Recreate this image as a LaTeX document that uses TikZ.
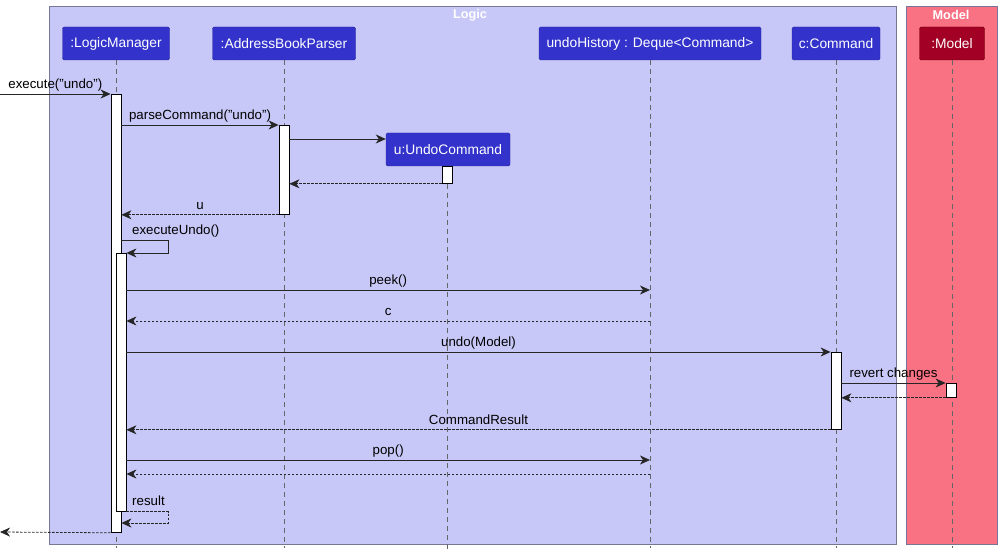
\documentclass[tikz,border=0pt]{standalone}
\usepackage{fontspec}
\setmainfont{Liberation Sans}
\usetikzlibrary{arrows.meta}

\definecolor{logicbg}{RGB}{200,200,248}
\definecolor{modelbg}{RGB}{248,114,132}
\definecolor{framegray}{RGB}{118,118,150}
\definecolor{hdrblue}{RGB}{51,51,204}
\definecolor{hdrline}{RGB}{40,40,150}
\definecolor{hdrred}{RGB}{162,0,37}
\definecolor{hdrredline}{RGB}{111,0,0}

\tikzset{
	frame/.style={draw=framegray, line width=0.8pt},
	frametitle/.style={text=white, font=\bfseries\fontsize{12.7}{15}\selectfont},
	hdr/.style={draw=hdrline, fill=hdrblue, text=white, rounded corners=1.5pt,
		minimum height=33pt, inner sep=0pt, font=\fontsize{13.8}{16}\selectfont},
	life/.style={draw=black!60, dash pattern=on 5pt off 4pt, line width=0.6pt},
	act/.style={draw=black, fill=white, minimum width=10pt, inner sep=0pt, anchor=north, line width=0.8pt},
	msg/.style={draw=black!85, line width=0.8pt, -{Stealth[length=10pt,width=9pt,inset=3pt]}},
	ret/.style={msg, dash pattern=on 2.5pt off 1.5pt},
	lbl/.style={above, inner sep=2pt, text height=10pt, text depth=3pt, font=\fontsize{13.3}{15}\selectfont}
}

\begin{document}
\begin{tikzpicture}[x=1pt,y=-1pt]
	\useasboundingbox (0,0) rectangle (1002,556);
	% boxes
	\draw[frame, fill=logicbg] (49,6) rectangle (896,544);
	\draw[frame, fill=modelbg] (906,6) rectangle (997,544);
	\node[frametitle] (logicT) at (470,15) {Logic};
	\node[frametitle] (modelT) at (951,15) {Model};

	% participants
	\node[hdr, minimum width=107pt] (lm) at (116,43.5) {:LogicManager};
	\node[hdr, minimum width=143pt] (abp) at (284,43.5) {:AddressBookParser};
	\node[hdr, minimum width=222pt] (uh) at (650,43.5) {undoHistory : Deque<Command>};
	\node[hdr, minimum width=88pt] (cc) at (836,43.5) {c:Command};
	\node[hdr, minimum width=65pt, fill=hdrred, draw=hdrredline] (md) at (952,43.5) {:Model};

	\foreach \p in {lm,abp,uh,cc,md}
		\draw[life] (\p.south) -- (\p.south |- 0,548);

	% activations
	\node[act, minimum height=438pt] (lmA) at (116,94) {};
	\node[act, minimum height=89pt] (abpA) at (284,125) {};

	\draw[life] (447,166) -- (447,550);
	\node[hdr, minimum width=124pt] (uc) at (448,149.5) {u:UndoCommand};
	\node[act, minimum height=17pt] (ucA) at (447,166) {};

	\node[act, minimum height=258pt] (lmB) at (121,253) {};
	\node[act, minimum height=77pt] (ccA) at (836,352) {};
	\node[act, minimum height=14pt] (mdA) at (951,383) {};

	\coordinate (in) at (0,94);
	\coordinate (out) at (0,532);

	% messages
	\draw[msg] (in) -- node[lbl] {execute("undo")} (lmA.north west);
	\draw[msg] (lmA.east |- abpA.north) -- node[lbl] {parseCommand("undo")} (abpA.north west);
	\draw[msg] (abpA.east |- 0,139) -- (uc.west |- 0,139);
	\draw[ret] (ucA.south west) -- (abpA.east |- ucA.south);
	\draw[ret] (abpA.south west) -- node[lbl] {u} (lmA.east |- abpA.south);

	\draw[msg] (lmA.east |- 0,240) -- ++(47,0) |- (lmB.north east);
	\node[lbl, anchor=south west] (exU) at (130,240) {executeUndo()};

	\draw[msg] (lmB.east |- 0,290) -- node[lbl] {peek()} (uh |- 0,290);
	\draw[ret] (uh |- 0,321) -- node[lbl] {c} (lmB.east |- 0,321);
	\draw[msg] (lmB.east |- ccA.north) -- node[lbl] {undo(Model)} (ccA.north west);
	\draw[msg] (ccA.east |- mdA.north) -- node[lbl] {revert changes} (mdA.north west);
	\draw[ret] (mdA.south west) -- (ccA.east |- mdA.south);
	\draw[ret] (ccA.south west) -- node[lbl] {CommandResult} (lmB.east |- ccA.south);
	\draw[msg] (lmB.east |- 0,460) -- node[lbl] {pop()} (uh |- 0,460);
	\draw[ret] (uh |- 0,474) -- (lmB.east |- 0,474);

	\draw[ret] (lmB.south east) -- ++(42,0) |- (lmA.east |- 0,523);
	\node[lbl, anchor=south west] (res) at (130,511) {result};
	\draw[ret] (lmA.south west) -- (out);
\end{tikzpicture}
\end{document}
